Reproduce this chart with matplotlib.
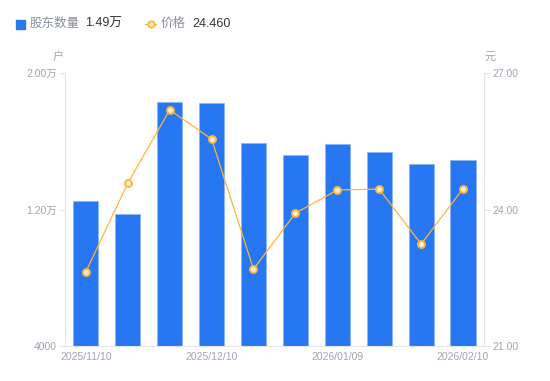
import matplotlib
matplotlib.use("Agg")
import matplotlib.pyplot as plt
from matplotlib.lines import Line2D
import numpy as np

plt.rcParams['font.family'] = ['Liberation Sans', 'Noto Sans CJK SC', 'DejaVu Sans']

# data
dates = ['2025/11/10', '2025/11/20', '2025/11/28', '2025/12/10', '2025/12/19',
         '2025/12/31', '2026/01/09', '2026/01/20', '2026/01/30', '2026/02/10']
holders = [12500, 11740, 18300, 18240, 15900, 15190, 15840, 15370, 14670, 14900]
price = [22.63, 24.58, 26.19, 25.55, 22.69, 23.92, 24.43, 24.45, 23.24, 24.46]
shown_ticks = [0, 3, 6, 9]

blue = '#2777F2'
orange = '#FFB43C'
grey_txt = '#A0A4B3'
axis_col = '#E3E5EA'

fig = plt.figure(figsize=(5.5, 3.81), dpi=100)
ax = fig.add_axes([0.118, 0.092, 0.762, 0.716])
ax2 = ax.twinx()

x = np.arange(len(dates))
ax.bar(x, holders, width=0.6, color=blue, edgecolor='#8DB6F7', linewidth=0.6, zorder=2)
ax2.plot(x, price, color=orange, linewidth=0.9, marker='o', markersize=5,
         markerfacecolor='#FFF3D6', markeredgecolor=orange, markeredgewidth=1.4, zorder=3)

ax.set_xlim(-0.5, len(dates) - 0.5)
ax.set_ylim(4000, 20000)
ax.set_yticks([4000, 12000, 20000])
ax.set_yticklabels(['4000', '1.20万', '2.00万'])
ax2.set_ylim(21, 27)
ax2.set_yticks([21, 24, 27])
ax2.set_yticklabels(['21.00', '24.00', '27.00'])
ax.set_xticks(shown_ticks)
ax.set_xticklabels([dates[i] for i in shown_ticks])

for a in (ax, ax2):
    for s in a.spines.values():
        s.set_visible(False)
ax.spines['left'].set_visible(True)
ax.spines['left'].set_color(axis_col)
ax.spines['bottom'].set_visible(True)
ax.spines['bottom'].set_color(axis_col)
ax2.spines['right'].set_visible(True)
ax2.spines['right'].set_color(axis_col)

ax.tick_params(axis='y', colors=axis_col, labelcolor=grey_txt, labelsize=7.5, length=4, width=0.8, pad=2)
ax.tick_params(axis='x', length=0, labelcolor=grey_txt, labelsize=7.5, pad=4)
ax2.tick_params(axis='y', colors=axis_col, labelcolor=grey_txt, labelsize=7.5, length=4, width=0.8, pad=2)

fig.text(58 / 550, 1 - 57 / 381, '户', color=grey_txt, fontsize=8, ha='center', va='center')
fig.text(490 / 550, 1 - 57 / 381, '元', color=grey_txt, fontsize=8, ha='center', va='center')

# legend row
fig.patches.append(plt.Rectangle((16 / 550, 1 - 29 / 381), 9 / 550, 9 / 381,
                                 transform=fig.transFigure, color=blue))
fig.text(30 / 550, 1 - 24 / 381, '股东数量', color='#8A8F9C', fontsize=9, va='center')
fig.text(85 / 550, 1 - 24 / 381, '1.49万', color='#333333', fontsize=9, va='center')
fig.lines.append(Line2D([145 / 550, 156 / 550], [1 - 24 / 381] * 2, transform=fig.transFigure,
                        color=orange, linewidth=1))
fig.lines.append(Line2D([150.5 / 550], [1 - 24 / 381], transform=fig.transFigure, marker='o',
                        markersize=4.5, markerfacecolor='#FFF3D6', markeredgecolor=orange,
                        markeredgewidth=1.3))
fig.text(161 / 550, 1 - 24 / 381, '价格', color='#8A8F9C', fontsize=9, va='center')
fig.text(192 / 550, 1 - 24 / 381, '24.460', color='#333333', fontsize=9, va='center')

fig.savefig('out.png', dpi=100)
